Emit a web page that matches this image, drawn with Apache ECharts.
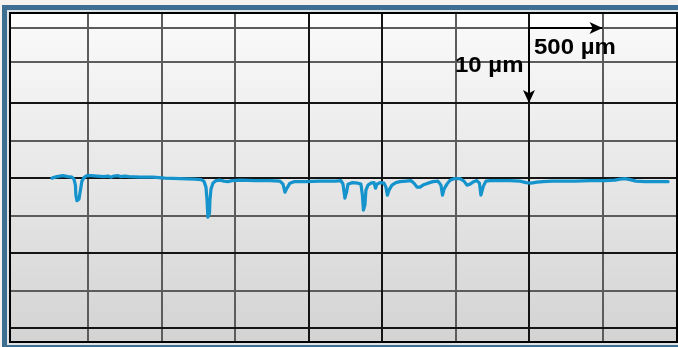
<!DOCTYPE html>
<html>
<head>
<meta charset="utf-8">
<script src="https://cdn.jsdelivr.net/npm/echarts@6/dist/echarts.min.js"></script>
<style>
  html, body { margin: 0; padding: 0; background: #f6f2ef; }
  #chart { width: 678px; height: 347px; }
</style>
</head>
<body>
<div id="chart"></div>
<script>
// Surface profile: lateral position (µm) vs. height (µm)
const profileX = [
  -245, -211, -170, -136, -109, -95, -85, -82, -75, -61, -51, -41, -27, -7, 20, 61,
  109, 136, 156, 177, 204, 224, 252, 279, 354, 442, 524, 626, 728, 769, 789, 803,
  810, 816, 827, 830, 837, 850, 871, 898, 925, 952, 980, 1034, 1136, 1238, 1306, 1327,
  1340, 1354, 1374, 1401, 1476, 1578, 1680, 1721, 1735, 1748, 1759, 1769, 1796, 1837,
  1857, 1867, 1874, 1884, 1891, 1905, 1925, 1946, 1956, 1966, 1986, 2014, 2027, 2037,
  2048, 2068, 2095, 2122, 2163, 2197, 2218, 2238, 2259, 2279, 2313, 2347, 2381, 2401,
  2412, 2422, 2442, 2463, 2490, 2531, 2558, 2578, 2599, 2619, 2646, 2663, 2673, 2680,
  2690, 2707, 2735, 2803, 2871, 2939, 2980, 3014, 3054, 3095, 3156, 3211, 3313, 3415,
  3517, 3585, 3619, 3653, 3687, 3728, 3789, 3857, 3946
];
const profileY = [
  0, 0.2, 0.33, 0.2, 0.13, -0.13, -0.93, -2.27, -3.0, -2.8, -1.6, -0.4, 0.07, 0.33, 0.33, 0.27,
  0.2, 0.27, 0.13, 0.27, 0.33, 0.2, 0.27, 0.2, 0.13, 0.13, 0, -0.07, -0.13, -0.2, -0.4, -1.2,
  -2.93, -5.2, -4.67, -2.93, -1.47, -0.67, -0.33, -0.27, -0.4, -0.47, -0.33, -0.27, -0.33, -0.33, -0.4, -0.8,
  -1.87, -1.33, -0.67, -0.47, -0.47, -0.4, -0.4, -0.33, -0.8, -2.67, -1.87, -0.8, -0.6, -0.67,
  -0.8, -2.27, -4.27, -3.6, -1.6, -0.93, -0.67, -0.6, -1.33, -0.8, -0.6, -0.67, -1.2, -2.27,
  -1.6, -0.93, -0.6, -0.47, -0.4, -0.33, -0.67, -1.2, -1.2, -0.93, -0.67, -0.47, -0.4, -0.93,
  -2.27, -1.47, -0.8, -0.27, -0.07, -0.07, -0.4, -0.93, -0.8, -0.53, -0.33, -0.67, -2.27, -2.27,
  -1.07, -0.4, -0.33, -0.33, -0.33, -0.4, -0.6, -0.67, -0.53, -0.47, -0.4, -0.4, -0.4, -0.33,
  -0.33, -0.27, -0.13, -0.07, -0.2, -0.4, -0.47, -0.47, -0.47
];

// Grid line positions (µm)
const xGridMajor = [1500, 2000, 3000];
const xGridMinor = [0, 500, 1000, 2500, 3500];
const yGridMajor = [10, 0, -10, -20];
const yGridMinor = [20, 15.5, 5, -5, -15];

// Scale bar
const scaleOrigin = [3000, 20];
const scaleLengthX = 500;
const scaleLengthY = 10;
const unit = 'µm';

const chart = echarts.init(document.getElementById('chart'), null, { renderer: 'canvas' });

const vLine = (v, color) => ({ xAxis: v, lineStyle: { color: color } });
const hLine = (v, color) => ({ yAxis: v, lineStyle: { color: color } });

const gridLines = []
  .concat(xGridMinor.map(v => vLine(v, '#5c5c5c')))
  .concat(yGridMinor.map(v => hLine(v, '#5c5c5c')))
  .concat(xGridMajor.map(v => vLine(v, '#141414')))
  .concat(yGridMajor.map(v => hLine(v, '#141414')));

const bgFill = new echarts.graphic.LinearGradient(0, 0, 0, 1, [
  { offset: 0, color: '#ffffff' },
  { offset: 0.045, color: '#fdfdfd' },
  { offset: 0.047, color: '#f9f9f9' },
  { offset: 1, color: '#d3d3d3' }
]);

const labelFont = 'bold 22px "Liberation Sans", Arial, sans-serif';

chart.setOption({
  backgroundColor: '#f6f2ef',
  animation: false,
  graphic: [
    { type: 'rect', z: -20, silent: true, shape: { x: 2, y: 5, width: 700, height: 400 }, style: { fill: '#3e6e91' } },
    { type: 'rect', z: -19, silent: true, shape: { x: 7, y: 10, width: 700, height: 335 }, style: { fill: '#dde2e7' } },
    { type: 'rect', z: -18, silent: true, shape: { x: 10, y: 13, width: 667, height: 329 }, style: { fill: bgFill } },
    { type: 'rect', z: 50, silent: true, shape: { x: 10, y: 13, width: 667, height: 329 }, style: { fill: null, stroke: '#000', lineWidth: 2 } },
    { type: 'text', z: 60, silent: true, x: 455, y: 55, scaleX: 1.09,
      style: { text: scaleLengthY + ' ' + unit, font: labelFont, fill: '#000' } },
    { type: 'text', z: 60, silent: true, x: 534, y: 37, scaleX: 1.09,
      style: { text: scaleLengthX + ' ' + unit, font: labelFont, fill: '#000' } }
  ],
  grid: { left: 10, right: 2, top: 13, bottom: 6, containLabel: false },
  xAxis: {
    type: 'value', min: -530, max: 4000,
    axisLine: { show: false }, axisTick: { show: false }, axisLabel: { show: false }, splitLine: { show: false }
  },
  yAxis: {
    type: 'value', min: -21.7, max: 22,
    axisLine: { show: false }, axisTick: { show: false }, axisLabel: { show: false }, splitLine: { show: false }
  },
  series: [
    {
      name: 'grid', type: 'line', data: [], z: 1, silent: true,
      markLine: {
        silent: true, symbol: ['none', 'none'], label: { show: false }, animation: false,
        lineStyle: { type: 'solid', width: 2 },
        data: gridLines
      }
    },
    {
      name: 'profile', type: 'line', z: 5, silent: true,
      showSymbol: false, smooth: false,
      lineStyle: { color: '#1593cc', width: 3.2, join: 'round', cap: 'round' },
      data: profileX.map((x, i) => [x, profileY[i]])
    },
    {
      name: 'scale', type: 'line', data: [], z: 10, silent: true,
      markLine: {
        silent: true, animation: false, symbol: ['none', 'arrow'], symbolSize: [9, 13],
        label: { show: false },
        lineStyle: { type: 'solid', width: 2, color: '#000' },
        data: [
          [{ coord: scaleOrigin }, { coord: [scaleOrigin[0] + scaleLengthX, scaleOrigin[1]] }],
          [{ coord: scaleOrigin }, { coord: [scaleOrigin[0], scaleOrigin[1] - scaleLengthY] }]
        ]
      }
    }
  ]
});
</script>
</body>
</html>
